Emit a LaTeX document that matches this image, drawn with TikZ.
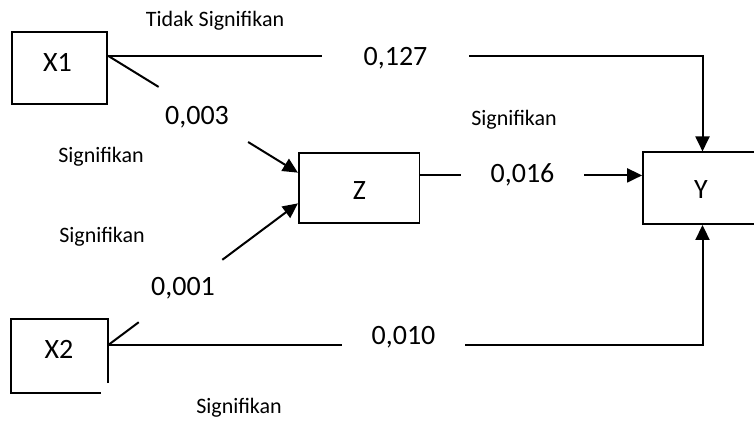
\documentclass[tikz,border=0pt]{standalone}
\usepackage{fontspec}
\setmainfont{Carlito}
\usetikzlibrary{arrows.meta,calc}
\newcommand\fzbig{\fontsize{28}{34}\selectfont}
\newcommand\fzsmall{\fontsize{22}{26}\selectfont}
\begin{document}
\begin{tikzpicture}[x=1pt,y=-1pt,
  line width=2pt,
  box/.style={draw, line width=1.8pt, inner sep=0pt, minimum height=72pt},
  ghost/.style={inner sep=0pt, minimum height=72pt},
  bigt/.style={font=\fzbig, anchor=base, inner sep=0pt},
  smallt/.style={font=\fzsmall, anchor=base, inner sep=0pt},
  gaplab/.style={font=\fzbig, anchor=base, inner sep=0pt},
  arr/.style={-{Triangle[length=15pt,width=14pt]}}]
\clip (0,0) rectangle (754,421);
% boxes
\node[box, minimum width=95.3pt] (X1) at (59.35,68) {};
\node[ghost, minimum width=95pt] (X2) at (59.5,356) {};
\node[box, minimum width=120.6pt, minimum height=70.6pt] (Z) at (359.1,188) {};
\node[box, minimum width=119pt, minimum height=71.7pt] (Y) at (702.5,188.2) {};
% partial outline of X2
\draw[line width=1.8pt] ($(X2.south east)+(0,-10)$) -- (X2.north east) -- (X2.north west) -- (X2.south west) -- ($(X2.south east)+(-7,0)$);
% box texts
\node[bigt] (X1t) at (57.5,71) {X1};
\node[bigt] (X2t) at (59,358) {X2};
\node[bigt] (Zt) at (359.5,199) {Z};
\node[bigt] (Yt) at (701,198) {Y};
% coefficient labels
\node[gaplab, minimum width=145pt] (l127) at (395.5,65) {0,127};
\node[gaplab, minimum width=121pt] (l016) at (522.5,182) {0,016};
\node[gaplab, minimum width=121pt] (l010) at (403.5,344) {0,010};
\node[bigt] (l003) at (197,124) {0,003};
\node[bigt] (l001) at (183,295) {0,001};
% significance labels
\node[smallt] (t1) at (215,26) {Tidak Signifikan};
\node[smallt] (s1) at (101,162) {Signifikan};
\node[smallt] (s2) at (514,125) {Signifikan};
\node[smallt] (s3) at (102,242) {Signifikan};
\node[smallt] (s4) at (239,413) {Signifikan};
% connection points
\coordinate (X1o) at ($(X1.north east)!0.333!(X1.south east)$);
\coordinate (X2o) at ($(X2.north east)!0.354!(X2.south east)$);
\coordinate (Zo) at ($(Z.north east)!0.326!(Z.south east)$);
\coordinate (Zi1) at ($(Z.north west)!0.288!(Z.south west)$);
\coordinate (Zi2) at ($(Z.north west)!0.712!(Z.south west)$);
% X1 -> Y
\draw (X1o) -- (X1o -| l127.west);
\draw[arr] (l127.east |- X1o) -| (Y.north);
% X2 -> Y
\draw (X2o) -- (X2o -| l010.west);
\draw[arr] (l010.east |- X2o) -| (Y.south);
% Z -> Y
\draw (Zo) -- (Zo -| l016.west);
\draw[arr] (l016.east |- Zo) -- (Zo -| Y.west);
% X1 -> Z
\draw (X1o) -- ($(X1o)!0.267!(Zi1)$);
\draw[arr] ($(X1o)!0.738!(Zi1)$) -- (Zi1);
% X2 -> Z
\draw (X2o) -- ($(X2o)!0.162!(Zi2)$);
\draw[arr] ($(X2o)!0.602!(Zi2)$) -- (Zi2);
\end{tikzpicture}
\end{document}
